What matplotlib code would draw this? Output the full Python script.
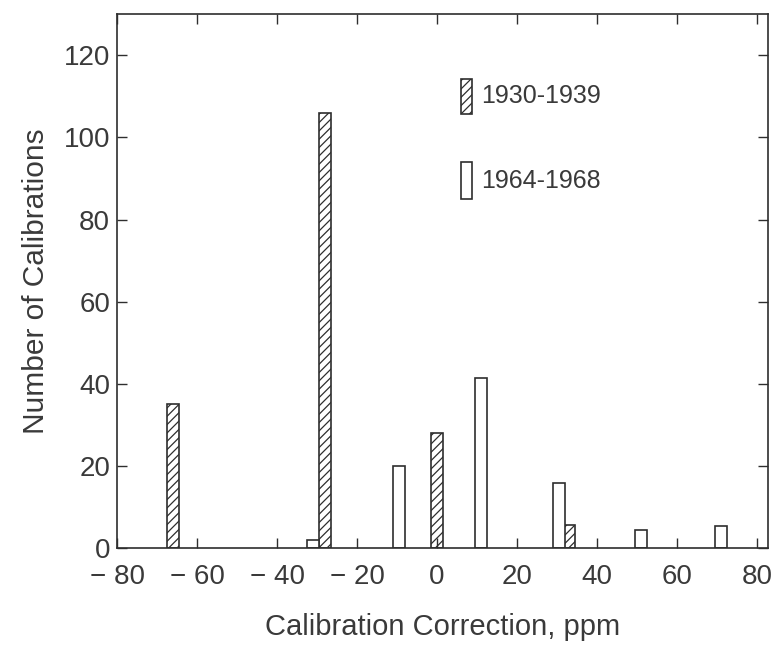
import matplotlib
matplotlib.use("Agg")
import matplotlib.pyplot as plt
from matplotlib.patches import Rectangle

plt.rcParams['font.family'] = ['Liberation Sans', 'DejaVu Sans']
plt.rcParams['hatch.linewidth'] = 0.9

# Data
x_1930 = [-66, -28, 0, 33]
n_1930 = [35, 106, 28, 5.6]
x_1964 = [-31, -9.5, 11, 30.5, 51, 71]
n_1964 = [2, 20, 41.5, 16, 4.4, 5.3]
xticks = [-80, -60, -40, -20, 0, 20, 40, 60, 80]
xticklabels = ['\u2212 80', '\u2212 60', '\u2212 40', '\u2212 20', '0', '20', '40', '60', '80']
yticks = [0, 20, 40, 60, 80, 100, 120]
labels = ['1930-1939', '1964-1968']

ink = '#2e2e2e'
txt = '#3a3a3a'

fig = plt.figure(figsize=(7.75, 6.45), dpi=100)
ax = fig.add_axes([0.151, 0.150, 0.840, 0.828])

bw = 2.9
ax.bar(x_1930, n_1930, width=bw, facecolor='white', edgecolor=ink, hatch='////', linewidth=1.2)
ax.bar(x_1964, n_1964, width=bw, facecolor='white', edgecolor=ink, linewidth=1.2)

ax.set_xlim(-80, 82.75)
ax.set_ylim(0, 130)
ax.set_xticks(xticks)
ax.set_xticklabels(xticklabels)
ax.set_yticks(yticks)
ax.tick_params(direction='in', top=True, right=True, length=7, width=1.0, colors=ink,
               labelsize=20, labelcolor=txt)
ax.tick_params(axis='x', pad=11)
ax.tick_params(axis='y', pad=5)
for s in ax.spines.values():
    s.set_color(ink)
    s.set_linewidth(1.2)

ax.set_xlabel('Calibration Correction, ppm', fontsize=21, color=txt, labelpad=17)
ax.set_ylabel('Number of Calibrations', fontsize=21.5, color=txt, labelpad=10)

# legend drawn as tall narrow boxes
ax.add_patch(Rectangle((6.0, 105.6), 2.75, 8.7, facecolor='white', edgecolor=ink,
                       hatch='////', linewidth=1.2))
ax.add_patch(Rectangle((6.0, 85.0), 2.75, 9.0, facecolor='white', edgecolor=ink,
                       linewidth=1.2))
ax.text(11.0, 110, labels[0], fontsize=18, color=txt, va='center', ha='left')
ax.text(11.0, 89.5, labels[1], fontsize=18, color=txt, va='center', ha='left')

fig.savefig('out.png', dpi=100, facecolor='white')
